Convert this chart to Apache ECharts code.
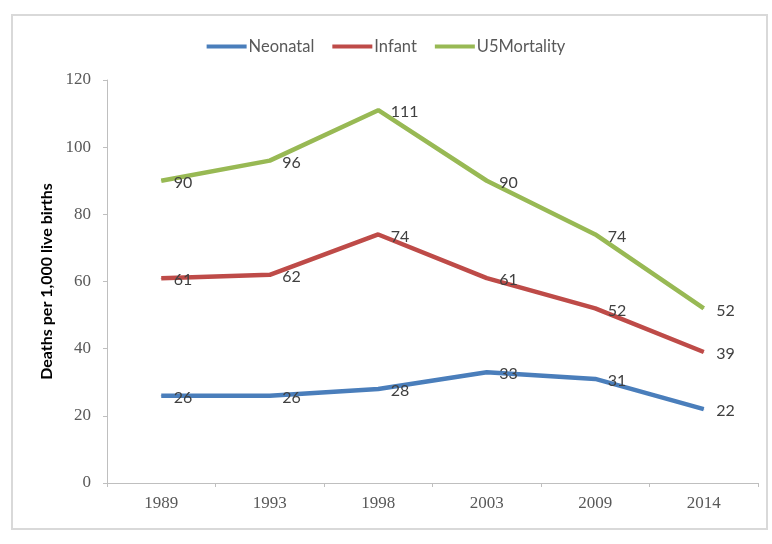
<!DOCTYPE html>
<html>
<head>
<meta charset="utf-8">
<script src="https://cdn.jsdelivr.net/npm/echarts@6/dist/echarts.min.js"></script>
<style>
  html, body { margin: 0; padding: 0; background: #fff; }
  #chart { width: 772px; height: 544px; }
</style>
</head>
<body>
<div id="chart"></div>
<script>
// Survey years on the category axis
var years = ['1989', '1993', '1998', '2003', '2009', '2014'];

// Mortality rates, deaths per 1,000 live births
var neonatal = [26, 26, 28, 33, 31, 22];
var infant = [61, 62, 74, 61, 52, 39];
var u5mortality = [90, 96, 111, 90, 74, 52];

// Value axis range
var yMin = 0;
var yMax = 120;
var yStep = 20;

var seriesNames = ['Neonatal', 'Infant', 'U5Mortality'];
var seriesColors = ['#4A7EBB', '#BE4B48', '#98B954'];
var seriesData = [neonatal, infant, u5mortality];

var chart = echarts.init(document.getElementById('chart'));

function makeSeries(i) {
  return {
    name: seriesNames[i],
    type: 'line',
    data: seriesData[i],
    symbol: 'circle',
    symbolSize: 1,
    showSymbol: true,
    lineStyle: { color: seriesColors[i], width: 4.5 },
    itemStyle: { color: seriesColors[i] },
    label: {
      show: true,
      position: 'right',
      distance: 12,
      offset: [0, 2],
      fontFamily: 'Lato',
      fontSize: 16,
      color: '#404040'
    },
    emphasis: { disabled: true },
    animation: false
  };
}

chart.setOption({
  backgroundColor: '#ffffff',
  animation: false,
  graphic: [{
    type: 'rect',
    shape: { x: 12, y: 15, width: 755, height: 514 },
    style: { fill: 'none', stroke: '#d9d9d9', lineWidth: 2 },
    silent: true
  }],
  legend: {
    top: 33,
    left: 'center',
    icon: 'rect',
    itemWidth: 40,
    itemHeight: 4,
    itemGap: 18,
    textStyle: { fontFamily: 'Lato', fontSize: 16.5, color: '#595959', padding: [0, 0, 0, -3] },
    data: seriesNames
  },
  grid: { left: 107, right: 14, top: 80, bottom: 61, containLabel: false },
  xAxis: {
    type: 'category',
    data: years,
    boundaryGap: true,
    axisLine: { lineStyle: { color: '#bfbfbf', width: 1 } },
    axisTick: { show: true, length: 4, lineStyle: { color: '#bfbfbf' } },
    axisLabel: { fontFamily: 'Liberation Serif', fontSize: 17, color: '#595959', margin: 12 },
    splitLine: { show: false }
  },
  yAxis: {
    type: 'value',
    min: yMin,
    max: yMax,
    interval: yStep,
    name: 'Deaths per 1,000 live births',
    nameLocation: 'middle',
    nameGap: 52,
    nameTextStyle: { fontFamily: 'Lato', fontSize: 16, fontWeight: 'bold', color: '#000000' },
    axisLine: { show: true, lineStyle: { color: '#bfbfbf', width: 1 } },
    axisTick: { show: true, length: 4, lineStyle: { color: '#bfbfbf' } },
    axisLabel: { fontFamily: 'Liberation Serif', fontSize: 17, color: '#595959', margin: 16 },
    splitLine: { show: false }
  },
  series: [makeSeries(0), makeSeries(1), makeSeries(2)]
});
</script>
</body>
</html>
